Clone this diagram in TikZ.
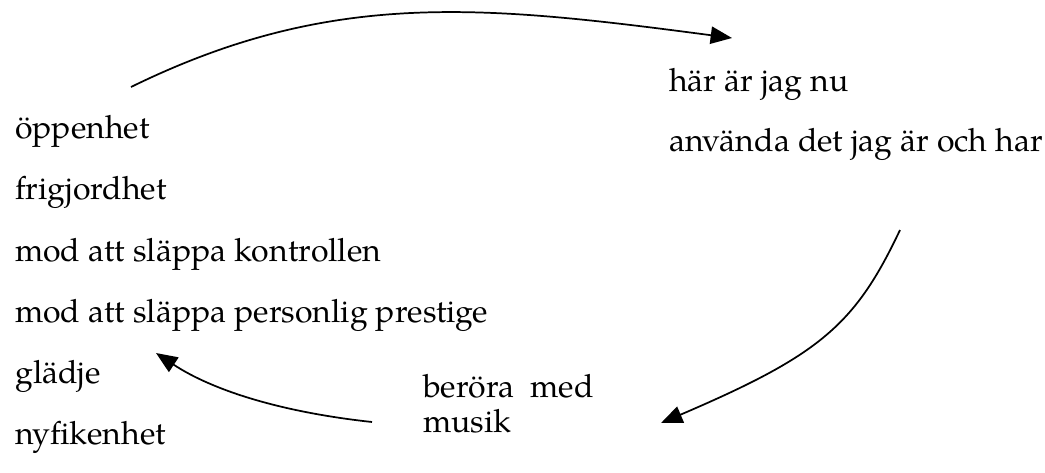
\documentclass[tikz,border=0pt]{standalone}
\usepackage{fontspec}
\setmainfont{TeX Gyre Pagella}
\usepackage{tikz}
\usetikzlibrary{arrows.meta,positioning}

\begin{document}
\begin{tikzpicture}[
        x=0.75pt, y=-0.75pt,
        every node/.style={inner sep=0pt, anchor=base west, font=\fontsize{24}{26.25}\selectfont},
        item/.style={align=left},
        conn/.style={-{Triangle[length=16pt, width=13pt]}, line width=1.3pt}
    ]
        \useasboundingbox (0,0) rectangle (1045,472);

        % Nodes
        \node[item] (open) at (15,138) {öppenhet};
        \node[item] (free) at (15,199) {frigjordhet};
        \node[item] (ctrl) at (15,261) {mod att släppa kontrollen};
        \node[item] (prest) at (15,322) {mod att släppa personlig prestige};
        \node[item] (joy) at (15,383) {glädje};
        \node[item] (curious) at (15,444) {nyfikenhet};

        \node[item] (here) at (669,91) {här är jag nu};
        \node[item] (use) at (669,151) {använda det jag är och har};

        \node[item] (touch) at (423,432) {beröra~ med\\musik};

        % Arrow ends
        \coordinate (a1) at (131,87);
        \coordinate (b1) at (732,38);
        \coordinate (a2) at (900,230);
        \coordinate (b2) at (661,423);
        \coordinate (a3) at (372,422);
        \coordinate (b3) at (156,353);

        % Connections
        \draw[conn] (a1) .. controls (331,-11) and (482,5) .. (b1);
        \draw[conn] (a2) .. controls (855,325) and (820,355) .. (b2);
        \draw[conn] (a3) .. controls (280,412) and (212,390) .. (b3);

    \end{tikzpicture}
\end{document}
